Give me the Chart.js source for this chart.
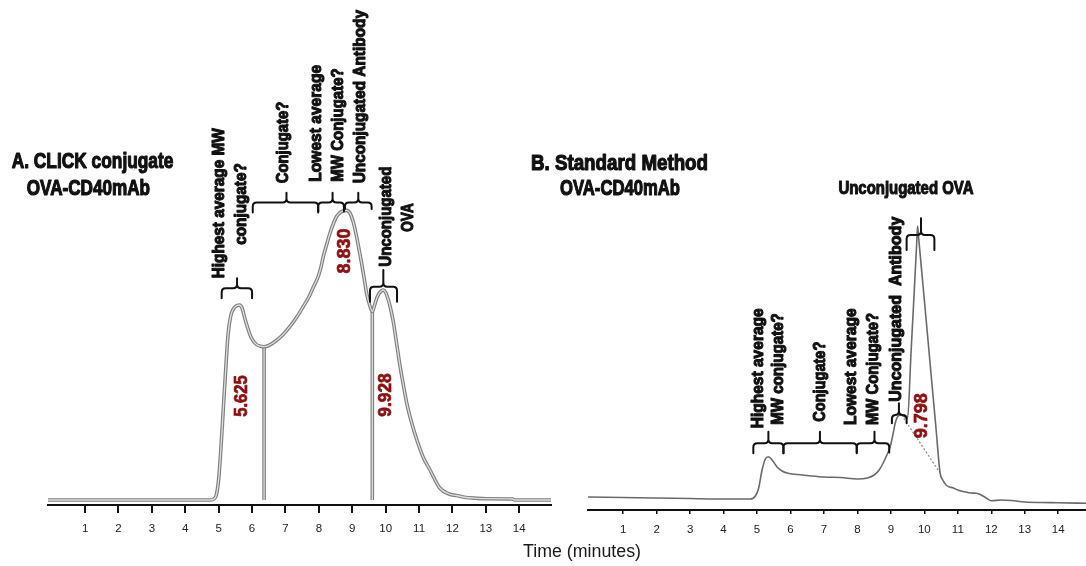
<!DOCTYPE html>
<html>
<head>
<meta charset="utf-8">
<script src="https://cdn.jsdelivr.net/npm/chart.js@4.4.1/dist/chart.umd.min.js"></script>
<style>
  html, body { margin: 0; padding: 0; background: #fff; width: 1086px; height: 566px; overflow: hidden; }
  canvas { position: absolute; left: 0; top: 0; }
</style>
</head>
<body>
<canvas id="clickChart" width="1086" height="566"></canvas>
<canvas id="standardChart" width="1086" height="566"></canvas>
<script>
// ---- Data: SEC traces (retention time in minutes, detector signal in arbitrary units) ----
const minuteTicks = [1, 2, 3, 4, 5, 6, 7, 8, 9, 10, 11, 12, 13, 14];

// A. CLICK conjugate OVA-CD40mAb
const clickTime = [-0.11, 4.75, 4.85, 4.93, 5.0, 5.07, 5.14, 5.21, 5.28, 5.36, 5.45, 5.55, 5.625, 5.7, 5.78,
  5.88, 5.98, 6.13, 6.25, 6.36, 6.5, 6.73, 6.93, 7.13, 7.33, 7.53, 7.7, 7.83, 7.98, 8.06, 8.13, 8.23, 8.33,
  8.43, 8.53, 8.65, 8.75, 8.83, 8.93, 9.03, 9.13, 9.2, 9.28, 9.36, 9.43, 9.52, 9.6, 9.66, 9.73, 9.8, 9.87,
  9.928, 10.0, 10.08, 10.15, 10.23, 10.33, 10.43, 10.53, 10.63, 10.78, 10.93, 11.12, 11.32, 11.62, 11.9,
  12.12, 12.4, 12.72, 13.0, 13.8, 13.85, 14.95];
const clickSignal = [5, 5, 6, 10, 26, 58, 97, 135, 170, 189, 196.5, 199.5, 200, 197, 187,
  176, 167, 160.5, 158.8, 158.3, 159.5, 164.5, 170.5, 178.3, 187.5, 198.3, 208, 217.5, 228.5, 237.5, 248, 260, 271.5,
  281, 288.5, 292.8, 294.3, 294.6, 292, 283, 268.3, 256, 241.7, 226, 211.7, 200, 193.5, 199, 206.5, 211.5, 214,
  215, 212.5, 205, 196, 183, 161, 139, 120, 102, 82, 65.5, 48, 35.5, 17, 11,
  9.5, 7.5, 6.7, 6.3, 6, 5, 5];
const clickDropTimes = [6.36, 9.6];
const clickPeakTimes = [5.625, 8.830, 9.928];

// B. Standard method OVA-CD40mAb
const standardTime = [-0.05, 1, 2, 3, 4, 4.8, 4.95, 5.05, 5.15, 5.25, 5.34, 5.45, 5.6, 5.75, 5.9, 6.2, 6.5,
  7.0, 7.5, 8.0, 8.3, 8.5, 8.65, 8.77, 8.88, 8.98, 9.07, 9.13, 9.22, 9.32, 9.42, 9.5, 9.6, 9.7, 9.77, 9.798,
  9.83, 10.0, 10.2, 10.35, 10.47, 10.55, 10.65, 10.75, 10.85, 11.0, 11.2, 11.4, 11.55, 11.7, 11.85, 12.0,
  12.3, 12.6, 13.0, 13.5, 14.0, 14.83];
const standardSignal = [13, 12.5, 12, 11.5, 11, 11, 14, 22, 40, 51, 53.3, 50, 43, 39, 37, 35.5, 34.5,
  33, 32.5, 31, 32, 35, 40, 47, 55, 63.3, 77, 87, 94, 95, 93, 92, 156, 220, 266, 284,
  272, 210, 136, 81, 37, 30, 25, 23, 22.3, 20, 18.3, 17, 16.7, 15, 12, 9.3,
  10, 9.5, 8, 7.5, 7.3, 6.7];
const standardPeakTimes = [9.798];
const standardSkim = [9.32, 10.47];   // tangent skim between the antibody shoulder and the OVA tail

// ---- Helpers ----
const FONT = "'Liberation Sans', Arial, Helvetica, sans-serif";
const INK = '#111';
const PEAK_RED = '#8e0f0f';

const pts = (xs, ys) => xs.map((t, i) => ({ x: t, y: ys[i] }));
const signalAt = (xs, ys, t) => ys[xs.indexOf(t)];

// Text squeezed to a given run length; heavy labels get an extra outline for a black-weight look
function drawFitted(ctx, text, px, py, s) {
  ctx.save();
  ctx.translate(px, py);
  if (s.rotate) ctx.rotate(-Math.PI / 2);
  ctx.font = `${s.weight || 'bold'} ${s.size}px ${FONT}`;
  ctx.fillStyle = s.color || INK;
  ctx.strokeStyle = s.color || INK;
  ctx.textAlign = s.align || 'center';
  ctx.textBaseline = s.baseline || 'middle';
  if (s.width) ctx.scale(s.width / ctx.measureText(text).width, 1);
  ctx.fillText(text, 0, 0);
  if (s.heavy) {
    ctx.lineWidth = s.heavy;
    ctx.lineJoin = 'round';
    ctx.strokeText(text, 0, 0);
  }
  ctx.restore();
}

function drawBrace(ctx, xs, xm, xe, yBar, yEnd, yTop) {
  const r = 4;
  ctx.beginPath();
  ctx.moveTo(xs, yEnd);
  ctx.lineTo(xs, yBar + r);
  ctx.quadraticCurveTo(xs, yBar, xs + r, yBar);
  ctx.lineTo(xm - r, yBar);
  ctx.quadraticCurveTo(xm, yBar, xm, yBar - r);
  ctx.lineTo(xm, yTop);
  ctx.moveTo(xm, yBar - r);
  ctx.quadraticCurveTo(xm, yBar, xm + r, yBar);
  ctx.lineTo(xe - r, yBar);
  ctx.quadraticCurveTo(xe, yBar, xe, yBar + r);
  ctx.lineTo(xe, yEnd);
  ctx.stroke();
}

// Annotation layer: braces and labels placed in data coordinates, plus fixed page text
function notesPlugin(notes) {
  return {
    id: 'figureNotes',
    afterDatasetsDraw(chart) {
      const { ctx, scales: { x, y } } = chart;
      ctx.save();
      ctx.strokeStyle = INK;
      ctx.lineWidth = 2;
      ctx.lineCap = 'round';
      ctx.lineJoin = 'round';
      (notes.braces || []).forEach(b => drawBrace(ctx,
        x.getPixelForValue(b.from), x.getPixelForValue(b.tip), x.getPixelForValue(b.to),
        y.getPixelForValue(b.bar), y.getPixelForValue(b.end), y.getPixelForValue(b.top)));
      (notes.labels || []).forEach(l => drawFitted(ctx, l.text, x.getPixelForValue(l.x), y.getPixelForValue(l.y), l));
      (notes.fixed || []).forEach(l => drawFitted(ctx, l.text, l.px, l.py, l));
      ctx.restore();
    }
  };
}

function xAxis(min, max, axisHeight, tickLength, tickWidth) {
  return {
    type: 'linear', min, max,
    afterBuildTicks: s => { s.ticks = minuteTicks.map(v => ({ value: v })); },
    afterFit: s => { s.height = axisHeight; },
    grid: { drawOnChartArea: false, drawTicks: true, tickLength, lineWidth: tickWidth, color: INK },
    border: { display: true, color: INK, width: 2 },
    ticks: { padding: 9, maxRotation: 0, autoSkip: false, color: '#222', font: { family: FONT, size: 11.5 } }
  };
}

const baseOptions = {
  responsive: false,
  animation: false,
  events: [],
  plugins: { legend: { display: false }, tooltip: { enabled: false } },
  elements: { point: { radius: 0 } }
};

const NOTE = { size: 17, rotate: true, heavy: 1.1 };
const TITLE = { size: 22, align: 'left', baseline: 'alphabetic', heavy: 1.2 };
const PEAK = { size: 19, color: PEAK_RED, rotate: true, heavy: 0.7 };

// ---- A. CLICK conjugate ----
const clickPeakLabel = [
  { x: 5.69, y: 109, width: 41.7 },
  { x: 8.78, y: 254, width: 45 },
  { x: 10.01, y: 110, width: 43.4 }
];
const doubleTrace = (data, order) => ([
  { data, borderColor: '#dedede', borderWidth: 1.3, cubicInterpolationMode: 'monotone', order },
  { data, borderColor: '#7f7f7f', borderWidth: 3.6, cubicInterpolationMode: 'monotone', order: order + 1 }
]);

new Chart(document.getElementById('clickChart'), {
  type: 'line',
  data: {
    datasets: [
      ...doubleTrace(pts(clickTime, clickSignal), 0),
      ...clickDropTimes.flatMap(t => doubleTrace([{ x: t, y: 5 }, { x: t, y: signalAt(clickTime, clickSignal, t) }], 2))
    ]
  },
  options: {
    ...baseOptions,
    layout: { padding: { left: 48, right: 1086 - 551, top: 0, bottom: 0 } },
    scales: {
      x: xAxis(-0.11, 14.95, 61, 8, 2),
      y: { display: false, min: 0, max: 505 }
    }
  },
  plugins: [notesPlugin({
    braces: [
      { from: 5.09, tip: 5.55, to: 6.0, bar: 216.7, end: 206.7, top: 226.7 },
      { from: 6.02, tip: 7.03, to: 7.98, bar: 302.5, end: 292.5, top: 312.3 },
      { from: 7.98, tip: 8.41, to: 8.75, bar: 302.5, end: 293.5, top: 312.3 },
      { from: 8.78, tip: 9.18, to: 9.58, bar: 302.5, end: 296, top: 312.3 },
      { from: 9.53, tip: 9.93, to: 10.34, bar: 218.3, end: 203.3, top: 235 }
    ],
    labels: [
      { ...NOTE, text: 'Highest average MW', x: 5.02, y: 301.7, width: 150 },
      { ...NOTE, text: 'conjugate?', x: 5.69, y: 301, width: 81.7 },
      { ...NOTE, text: 'Conjugate?', x: 6.93, y: 362.5, width: 81.6 },
      { ...NOTE, text: 'Lowest average', x: 7.93, y: 381.7, width: 116.7 },
      { ...NOTE, text: 'MW Conjugate?', x: 8.58, y: 380, width: 113.4 },
      { ...NOTE, text: 'Unconjugated Antibody', x: 9.23, y: 408.3, width: 173.3 },
      { ...NOTE, text: 'Unconjugated', x: 10.03, y: 288.3, width: 100 },
      { ...NOTE, text: 'OVA', x: 10.67, y: 287.5, width: 28.4 },
      ...clickPeakTimes.map((t, i) => ({ ...PEAK, text: t.toFixed(3), ...clickPeakLabel[i] }))
    ],
    fixed: [
      { ...TITLE, text: 'A. CLICK conjugate', px: 11.7, py: 168.3, width: 161.7 },
      { ...TITLE, text: 'OVA-CD40mAb', px: 26.7, py: 195, width: 123.3 }
    ]
  })]
});

// ---- B. Standard method ----
new Chart(document.getElementById('standardChart'), {
  type: 'line',
  data: {
    datasets: [
      { data: pts(standardTime, standardSignal), borderColor: '#6a6a6a', borderWidth: 1.6,
        cubicInterpolationMode: 'monotone', order: 0 },
      { data: standardSkim.map(t => ({ x: t, y: signalAt(standardTime, standardSignal, t) })),
        borderColor: '#8a8a8a', borderWidth: 1.2, borderDash: [2, 2], order: 1 }
    ]
  },
  options: {
    ...baseOptions,
    layout: { padding: { left: 588, right: 0, top: 0, bottom: 0 } },
    scales: {
      x: xAxis(-0.05, 14.83, 56, 4, 1.5),
      y: { display: false, min: 0, max: 510 }
    }
  },
  plugins: [notesPlugin({
    braces: [
      { from: 4.89, tip: 5.34, to: 5.79, bar: 66.7, end: 56.7, top: 78.3 },
      { from: 5.79, tip: 6.88, to: 7.98, bar: 66.7, end: 56.7, top: 78.3 },
      { from: 7.98, tip: 8.51, to: 8.95, bar: 66.7, end: 57.5, top: 78.3 },
      { from: 9.03, tip: 9.24, to: 9.47, bar: 95, end: 86.7, top: 106.7 },
      { from: 9.47, tip: 9.9, to: 10.3, bar: 275, end: 260, top: 291.7 }
    ],
    labels: [
      { ...NOTE, text: 'Highest average', x: 5.04, y: 141.7, width: 120 },
      { ...NOTE, text: 'MW conjugate?', x: 5.64, y: 141, width: 111.7 },
      { ...NOTE, text: 'Conjugate?', x: 6.88, y: 128.3, width: 80 },
      { ...NOTE, text: 'Lowest average', x: 7.83, y: 143.3, width: 116.7 },
      { ...NOTE, text: 'MW Conjugate?', x: 8.48, y: 141, width: 112 },
      { ...NOTE, text: 'Unconjugated  Antibody', x: 9.17, y: 200.8, width: 185 },
      { text: 'Unconjugated OVA', x: 9.45, y: 315.7, size: 18, width: 135, baseline: 'alphabetic', heavy: 1.1 },
      ...standardPeakTimes.map(t => ({ ...PEAK, text: t.toFixed(3), x: 9.92, y: 94.2, width: 45 }))
    ],
    fixed: [
      { ...TITLE, text: 'B. Standard Method', px: 531, py: 170, width: 177 },
      { ...TITLE, text: 'OVA-CD40mAb', px: 560, py: 195, width: 120 },
      { text: 'Time (minutes)', px: 582, py: 552, size: 17.5, width: 118, weight: 'normal', color: '#1a1a1a' }
    ]
  })]
});
</script>
</body>
</html>
